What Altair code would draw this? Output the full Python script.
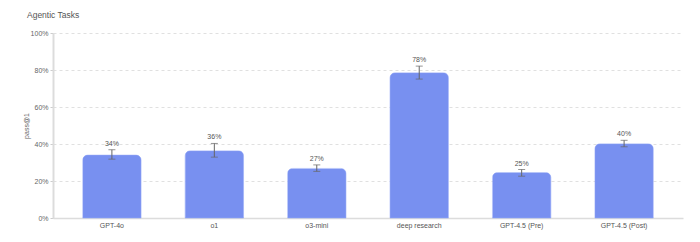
import altair as alt
import pandas as pd

models = ["GPT-4o", "o1", "o3-mini", "deep research", "GPT-4.5 (Pre)", "GPT-4.5 (Post)"]
values = [34.0, 36.3, 26.8, 78.5, 24.6, 40.1]
lower = [31.8, 32.9, 25.2, 75.1, 22.6, 38.5]
upper = [36.9, 40.3, 28.7, 82.1, 26.2, 42.0]
labels = ["34%", "36%", "27%", "78%", "25%", "40%"]

df = pd.DataFrame({"model": models, "value": values, "lo": lower, "hi": upper, "label": labels})
df["v"] = df["value"] / 100
df["l"] = df["lo"] / 100
df["h"] = df["hi"] / 100

FONT = "Liberation Sans"

x_axis = alt.Axis(labelAngle=0, labelFontSize=7, labelColor="#555", labelFont=FONT,
                  domainColor="#dcdcdc", domainWidth=1.5, ticks=False, labelPadding=3)
x = alt.X("model:N", sort=models, title=None,
          scale=alt.Scale(paddingInner=0.43, paddingOuter=0.29), axis=x_axis)
y_scale = alt.Scale(domain=[0, 1], nice=False)
y_axis = alt.Axis(format=".0%", values=[0, 0.2, 0.4, 0.6, 0.8, 1.0], labelOverlap=False,
                  labelFontSize=7, labelColor="#666", labelFont=FONT,
                  titleFontSize=7, titleColor="#666", titleFont=FONT, titleFontWeight="normal",
                  titlePadding=1,
                  domainColor="#dcdcdc", domainWidth=2,
                  tickSize=3, tickColor="#cccccc", labelPadding=2,
                  grid=True, gridColor="#e0e0e0", gridDash=[3, 3], gridWidth=1)


def yenc(field):
    return alt.Y(field, type="quantitative", scale=y_scale, title="pass@1", axis=y_axis)


base = alt.Chart(df).encode(x=x)

bars = base.mark_bar(color="#7890f0", cornerRadiusTopLeft=5, cornerRadiusTopRight=5,
                     stroke="#8aa0f5", strokeWidth=0.5).encode(y=yenc("v"))
rules = base.mark_rule(color="#666", strokeWidth=1).encode(y=yenc("l"), y2="h:Q")
caps_hi = base.mark_tick(color="#666", size=7, thickness=1).encode(y=yenc("h"))
caps_lo = base.mark_tick(color="#666", size=7, thickness=1).encode(y=yenc("l"))
text = base.mark_text(fontSize=7, color="#555", font=FONT, baseline="bottom", dy=-3).encode(
    y=yenc("h"), text="label:N")

chart = alt.layer(bars, rules, caps_hi, caps_lo, text).properties(
    width=630, height=185,
    title=alt.TitleParams("Agentic Tasks", anchor="start", frame="group", fontSize=8.5, font=FONT,
                          fontWeight="normal", color="#555", dx=-26, offset=10),
    autosize=alt.AutoSizeParams(type="none"),
    padding={"left": 53, "top": 33, "right": 17, "bottom": 24},
).configure(background="white", view=alt.ViewConfig(stroke="transparent"))

chart.save("out.html", embed_options={"renderer": "svg", "actions": False})
